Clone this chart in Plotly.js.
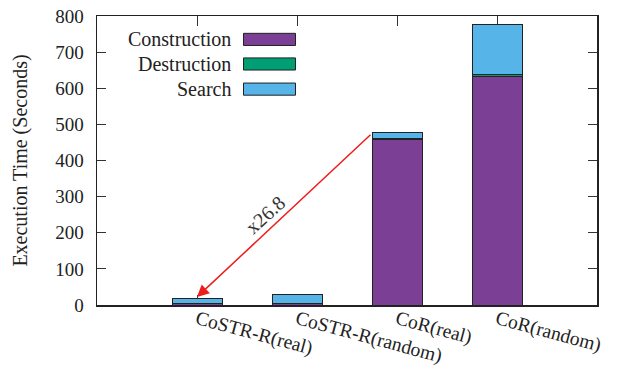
<!DOCTYPE html>
<html>
<head>
<meta charset="utf-8">
<script src="https://cdn.plot.ly/plotly-3.0.1.min.js"></script>
<style>html,body{margin:0;padding:0;background:#fff;}#chart{width:618px;height:365px;}</style>
</head>
<body>
<div id="chart"></div>
<script>
const categories = ["CoSTR-R(real)", "CoSTR-R(random)", "CoR(real)", "CoR(random)"];
const construction = [3, 3, 457, 633];
const destruction = [1, 1, 4, 5];
const search = [13, 24, 17, 139];
const seriesNames = ["Construction", "Destruction", "Search"];
const seriesColors = ["#7b3f95", "#009e73", "#56b4e9"];
const yTicks = [0, 100, 200, 300, 400, 500, 600, 700, 800];
const speedupLabel = "x26.8";

const FONT = "'Liberation Serif', 'Times New Roman', serif";
const seriesValues = [construction, destruction, search];

const traces = seriesValues.map((vals, i) => ({
  type: "bar",
  name: seriesNames[i],
  x: categories,
  y: vals,
  width: 0.5,
  marker: {color: seriesColors[i], line: {color: "#222", width: 1}},
  showlegend: false,
  hoverinfo: "skip"
}));

const legendRowsY = [0.919, 0.834, 0.747];
const annotations = [];
const shapes = [];
seriesNames.forEach((n, i) => {
  annotations.push({
    xref: "paper", yref: "paper", x: 0.272, y: legendRowsY[i],
    xanchor: "right", yanchor: "middle", text: n, showarrow: false,
    font: {family: FONT, size: 20, color: "#222"}
  });
  shapes.push({
    type: "rect", xref: "paper", yref: "paper",
    x0: 0.293, x1: 0.397, y0: legendRowsY[i] - 0.021, y1: legendRowsY[i] + 0.021,
    fillcolor: seriesColors[i], line: {color: "#222", width: 1}
  });
});

const tailTotal = construction[2] + destruction[2] + search[2];
const headTotal = construction[0] + destruction[0] + search[0];
annotations.push({
  x: 0, y: headTotal + 5, xref: "x", yref: "y",
  ax: 1.75, ay: tailTotal - 3, axref: "x", ayref: "y",
  showarrow: true, arrowhead: 2, arrowsize: 1.6, arrowwidth: 1.5,
  arrowcolor: "#ee1c1c", text: ""
});
annotations.push({
  x: 0.68, y: 249, xref: "x", yref: "y", text: speedupLabel,
  showarrow: false, textangle: -42,
  font: {family: FONT, size: 20, color: "#333"}
});

const layout = {
  width: 618, height: 365,
  margin: {l: 97, r: 21, t: 16, b: 60},
  paper_bgcolor: "#fff", plot_bgcolor: "#fff",
  barmode: "stack",
  font: {family: FONT, size: 19, color: "#222"},
  xaxis: {
    type: "category", range: [-1, 4], layer: "below traces",
    tickangle: 15, ticks: "inside", ticklen: 10, tickcolor: "#333", tickwidth: 1,
    showline: true, linecolor: "#222", linewidth: 1.5, mirror: "ticks",
    showgrid: false, zeroline: false, ticklabelstandoff: -6,
    tickfont: {family: FONT, size: 19.5, color: "#222"}
  },
  yaxis: {
    range: [0, 800], tickvals: yTicks,
    ticks: "inside", ticklen: 9, tickcolor: "#333", tickwidth: 1,
    showline: true, linecolor: "#222", linewidth: 1.5, mirror: "ticks",
    showgrid: false, zeroline: false, ticklabelstandoff: 8,
    tickfont: {family: FONT, size: 19, color: "#222"},
    title: {text: "Execution Time (Seconds)", font: {family: FONT, size: 20, color: "#222"}, standoff: 22}
  },
  annotations: annotations,
  shapes: shapes
};

Plotly.newPlot("chart", traces, layout, {displayModeBar: false, staticPlot: true});
</script>
</body>
</html>
